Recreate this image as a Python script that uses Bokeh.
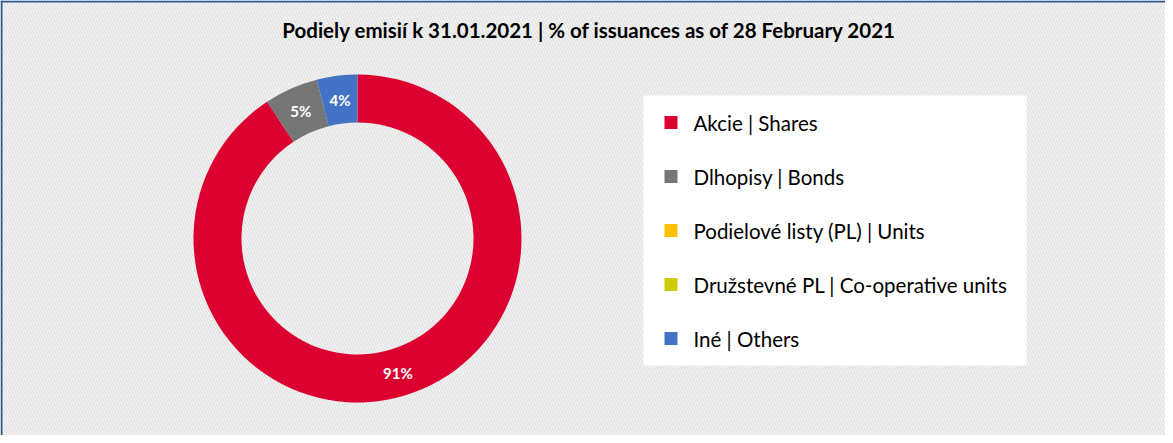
import math
from bokeh.plotting import figure
from bokeh.models import Range1d, Span, ColumnDataSource
from bokeh.core.properties import value
from bokeh.embed import file_html
from bokeh.resources import INLINE

# ---- data ----
title_text = "Podiely emisií k 31.01.2021 | % of issuances as of 28 February 2021"
categories = ["Akcie | Shares", "Dlhopisy | Bonds", "Podielové listy  (PL) | Units",
              "Družstevné PL | Co-operative units", "Iné | Others"]
shares = [90.7, 5.3, 0.0, 0.0, 4.0]
colors = ["#DC0030", "#767676", "#FFC000", "#CCCC00", "#4472C4"]

W, H = 1165, 435
p = figure(width=W, height=H, output_backend="svg", toolbar_location=None,
           x_range=Range1d(0, W), y_range=Range1d(0, H), min_border=0)
p.axis.visible = False
p.grid.visible = False
p.outline_line_color = None
p.background_fill_color = "white"
p.border_fill_color = "white"

# hatched background
p.quad(left=[0], right=[W], bottom=[0], top=[H], fill_color="white", line_color=None,
       hatch_pattern="left_diagonal_line", hatch_color="#e4e4e4", hatch_scale=6, hatch_weight=2)

# border (left and top)
p.add_layout(Span(location=1, dimension="height", line_color="#2E5A8C", line_width=2))
p.add_layout(Span(location=H - 1, dimension="width", line_color="#2E5A8C", line_width=2))

# title
p.text(x=[589], y=[406], text=[title_text], text_align="center", text_baseline="middle",
       text_font=value("Lato"), text_font_size="20.5px", text_font_style="bold", text_color="#000000")

# donut
cx, cy = 357, 197
r_out, r_in = 164, 116
total = sum(shares)
starts, ends, wcol, lx, ly, lt = [], [], [], [], [], []
cum = 0.0
for v, c in zip(shares, colors):
    a0 = math.pi / 2 - 2 * math.pi * cum / total
    cum += v
    a1 = math.pi / 2 - 2 * math.pi * cum / total
    if v > 0:
        starts.append(a0)
        ends.append(a1)
        wcol.append(c)
        mid = (a0 + a1) / 2
        rm = (r_out + r_in) / 2
        lx.append(cx + rm * math.cos(mid))
        ly.append(cy + rm * math.sin(mid))
        lt.append(f"{round(v)}%")

src = ColumnDataSource(dict(start=starts, end=ends, color=wcol))
p.annular_wedge(x=cx, y=cy, inner_radius=r_in, outer_radius=r_out, inner_radius_units="screen",
                outer_radius_units="screen", start_angle="start", end_angle="end",
                direction="clock", fill_color="color", line_color=None, source=src)
p.text(x=lx, y=ly, text=lt, text_align="center", text_baseline="middle",
       text_font=value("Lato"), text_font_size="15px", text_font_style="bold", text_color="white")

# legend box
p.quad(left=[643], right=[1026], bottom=[70], top=[340], fill_color="white", line_color=None)
ys = [313 - 54 * i for i in range(len(categories))]
p.rect(x=[670.5] * len(categories), y=ys, width=13, height=13, fill_color=colors, line_color=None)
p.text(x=[693] * len(categories), y=ys, text=categories, text_align="left", text_baseline="middle",
       text_font=value("Lato"), text_font_size="20.5px", text_color="#000000")

open("out.html", "w").write(file_html(p, INLINE))
